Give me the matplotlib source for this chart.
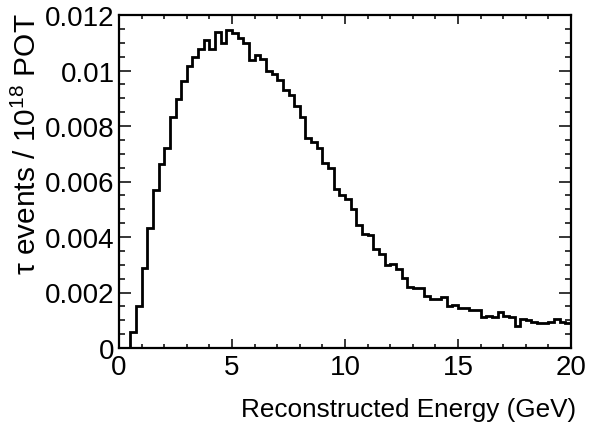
import numpy as np
import matplotlib
matplotlib.use('Agg')
import matplotlib.pyplot as plt
from matplotlib.ticker import MultipleLocator, FuncFormatter

plt.rcParams['font.family'] = ['Liberation Sans', 'DejaVu Sans']
plt.rcParams['mathtext.fontset'] = 'custom'
plt.rcParams['mathtext.rm'] = 'Liberation Sans'

# histogram: 80 bins of 0.25 GeV from 0 to 20 GeV, values in units of 1e-3
bin_edges = np.linspace(0, 20, 81)
tau_events = np.array([
    0.00, 0.00, 0.57, 1.52, 2.90, 4.31, 5.71, 6.62, 7.19, 8.31,
    8.96, 9.61, 10.15, 10.47, 10.79, 11.11, 10.79, 11.38, 10.99, 11.45,
    11.35, 11.17, 10.99, 10.39, 10.55, 10.41, 10.00, 9.88, 9.65, 9.29,
    9.10, 8.72, 8.31, 7.58, 7.43, 7.22, 6.68, 6.47, 5.72, 5.50,
    5.36, 5.02, 4.45, 4.11, 4.07, 3.58, 3.40, 3.00, 3.04, 2.83,
    2.54, 2.19, 2.18, 2.18, 1.87, 1.77, 1.77, 1.85, 1.50, 1.55,
    1.43, 1.43, 1.37, 1.37, 1.10, 1.16, 1.10, 1.29, 1.16, 1.10,
    0.80, 1.05, 1.02, 0.93, 0.90, 0.90, 0.95, 1.05, 0.95, 0.90,
]) * 1e-3

fig = plt.figure(figsize=(5.89, 4.31), dpi=100)
ax = fig.add_axes([119/589, 1 - 349/431, 452/589, 333/431])

ax.stairs(tau_events, bin_edges, color='black', linewidth=2.0, baseline=0)

ax.set_xlim(0, 20)
ax.set_ylim(0, 0.012)

# ROOT-like ticks: inside, on all four sides
ax.xaxis.set_major_locator(MultipleLocator(5))
ax.xaxis.set_minor_locator(MultipleLocator(1))
ax.yaxis.set_major_locator(MultipleLocator(0.002))
ax.yaxis.set_minor_locator(MultipleLocator(0.0005))
ax.yaxis.set_major_formatter(FuncFormatter(lambda v, p: '%g' % round(v, 6)))

ax.tick_params(axis='x', which='both', direction='in', top=True, bottom=True,
               labelsize=20, pad=4.5, width=1.1)
ax.tick_params(axis='x', which='major', length=6.5)
ax.tick_params(axis='x', which='minor', length=3.2)
ax.tick_params(axis='y', which='both', direction='in', left=True, right=True,
               labelsize=20, pad=3, width=1.1)
ax.tick_params(axis='y', which='major', length=8.5)
ax.tick_params(axis='y', which='minor', length=4.3)

for s in ax.spines.values():
    s.set_linewidth(1.6)

fig.text(576/589, 1 - 410/431, 'Reconstructed Energy (GeV)', ha='right', va='center', fontsize=18.8)
fig.text(27/589, 1 - 13/431, 'τ events / 10$^{\\mathregular{18}}$ POT', rotation=90,
         ha='center', va='top', fontsize=21.5)

fig.savefig('out.png', dpi=100)
